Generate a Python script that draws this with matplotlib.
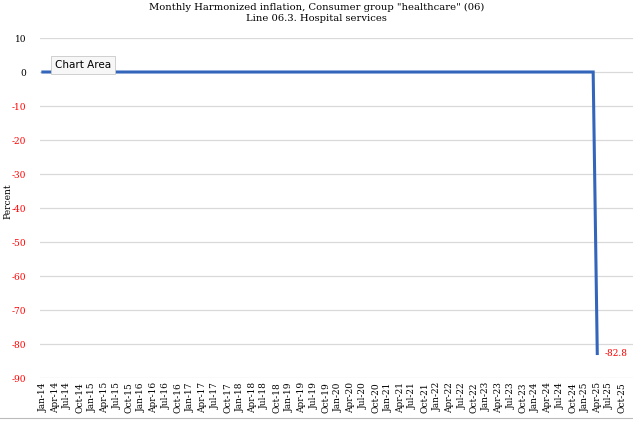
import matplotlib.pyplot as plt
import pandas as pd

# months on the category axis (axis runs to Dec-25, labels every quarter)
months = pd.date_range('2014-01-01', '2025-12-01', freq='MS')
month_labels = [m.strftime('%b-%y') for m in months]

# monthly values in percent, Jan-14 .. Apr-25
values = [
    0, 0, 0, 0, 0, 0, 0, 0, 0, 0, 0, 0,   # 2014
    0, 0, 0, 0, 0, 0, 0, 0, 0, 0, 0, 0,   # 2015
    0, 0, 0, 0, 0, 0, 0, 0, 0, 0, 0, 0,   # 2016
    0, 0, 0, 0, 0, 0, 0, 0, 0, 0, 0, 0,   # 2017
    0, 0, 0, 0, 0, 0, 0, 0, 0, 0, 0, 0,   # 2018
    0, 0, 0, 0, 0, 0, 0, 0, 0, 0, 0, 0,   # 2019
    0, 0, 0, 0, 0, 0, 0, 0, 0, 0, 0, 0,   # 2020
    0, 0, 0, 0, 0, 0, 0, 0, 0, 0, 0, 0,   # 2021
    0, 0, 0, 0, 0, 0, 0, 0, 0, 0, 0, 0,   # 2022
    0, 0, 0, 0, 0, 0, 0, 0, 0, 0, 0, 0,   # 2023
    0, 0, 0, 0, 0, 0, 0, 0, 0, 0, 0, 0,   # 2024
    0, 0, 0, -82.8,                       # 2025
]
y_ticks = [10, 0, -10, -20, -30, -40, -50, -60, -70, -80, -90]

title = 'Monthly Harmonized inflation, Consumer group "healthcare" (06)\nLine 06.3. Hospital services'

fig = plt.figure(figsize=(6.33, 4.22), dpi=100)
ax = fig.add_axes([40 / 633, 1 - 378 / 422, 593 / 633, 340 / 422])

x = list(range(len(values)))
ax.plot(x, values, color='#3366bb', lw=2.2, solid_joinstyle='miter')

ax.set_xlim(-0.7, 143.7)
ax.set_ylim(-90, 10)
ax.set_yticks(y_ticks)
ax.grid(axis='y', color='#d9d9d9', lw=0.9)
ax.set_axisbelow(True)
for s in ax.spines.values():
    s.set_visible(False)

ax.set_yticklabels([str(t) for t in y_ticks], family='DejaVu Serif', fontsize=6.5)
for lbl, t in zip(ax.get_yticklabels(), y_ticks):
    lbl.set_color('red' if t < 0 else 'black')
ax.tick_params(axis='y', length=0, pad=10)

x_q = list(range(0, len(months), 3))
ax.set_xticks(x_q)
ax.set_xticklabels([month_labels[i] for i in x_q], rotation=90,
                   family='DejaVu Serif', fontsize=6.5)
ax.tick_params(axis='x', length=0, pad=3)

ax.set_ylabel('Percent', family='DejaVu Serif', fontsize=6.5)
ax.yaxis.set_label_coords(-28 / 593, 0.52)

# data label on last point
ax.annotate(f'{values[-1]}', (x[-1], values[-1]), xytext=(5, 0),
            textcoords='offset points', color='red', fontsize=6.5,
            family='DejaVu Serif', va='center')

fig.text(0.5, 1 - 3 / 422, title, ha='center', va='top', family='DejaVu Serif',
         fontsize=7.2, linespacing=1.25)

# Excel "Chart Area" tooltip
fig.text(55 / 633, 1 - 65 / 422, 'Chart Area', ha='left', va='center',
         fontsize=7.5, family='DejaVu Sans',
         bbox=dict(boxstyle='square,pad=0.4', fc='#f7f7f7', ec='#c8c8c8', lw=0.6))

# chart area border at bottom
fig.add_artist(plt.Line2D([0, 1], [1 - 418 / 422] * 2, color='#bbbbbb', lw=0.8))

fig.savefig('out.png', dpi=100)
